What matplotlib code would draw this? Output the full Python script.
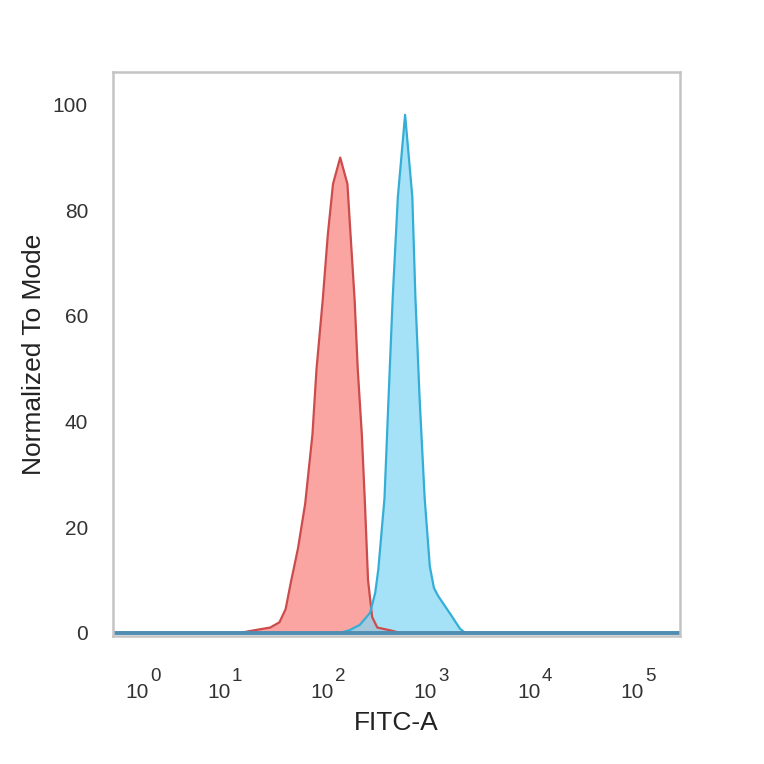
import numpy as np
import matplotlib
matplotlib.use('Agg')
import matplotlib.pyplot as plt

plt.rcParams['font.family'] = ['Liberation Sans', 'DejaVu Sans']

# Histogram data, x in log10(FITC-A) decades, y = % of mode
red_x = [-0.39, 1.13, 1.27, 1.42, 1.51, 1.57, 1.62, 1.69, 1.76, 1.83, 1.87, 1.93,
         1.98, 2.03, 2.10, 2.17, 2.20, 2.24, 2.27, 2.31, 2.34, 2.37, 2.41,
         2.46, 2.58, 2.68, 5.39]
red_y = [0, 0, 0.5, 1.0, 2.0, 4.5, 9.5, 16, 24.5, 37.5, 50, 63,
         75.5, 85, 90, 85, 75.5, 63, 50, 37.5, 24.5, 10, 3.0,
         1.0, 0.5, 0, 0]

blue_x = [-0.39, 2.10, 2.19, 2.29, 2.39, 2.44, 2.47, 2.53, 2.57, 2.61, 2.66, 2.73,
          2.80, 2.83, 2.87, 2.92, 2.97, 3.01, 3.05, 3.17, 3.26, 3.31, 5.39]
blue_y = [0, 0, 0.5, 1.5, 3.8, 7.6, 12, 25.5, 44.8, 63.6, 82.6, 98.1,
          82.6, 63.6, 44.8, 25.5, 12.6, 8.5, 7.0, 3.5, 0.8, 0, 0]

decades = [0, 1, 2, 3, 4, 5]
yticks = [0, 20, 40, 60, 80, 100]

# FlowJo-like display: compressed first decade
knots = np.array([-1, 0, 1, 2, 3, 4, 5, 6], dtype=float)
disp = np.array([63, 145, 227, 330, 433, 537, 640, 743], dtype=float)


def fwd(x):
    return np.interp(x, knots, disp)


def inv(x):
    return np.interp(x, disp, knots)


fig = plt.figure(figsize=(7.64, 7.64), dpi=100)
ax = fig.add_axes([113 / 764, 1 - 636 / 764, 567 / 764, 564 / 764])
ax.set_xscale('function', functions=(fwd, inv))

ax.fill_between(red_x, red_y, color='#FA9B98', alpha=0.9, lw=0)
ax.plot(red_x, red_y, color='#CC4B4B', lw=1.6)
ax.fill_between(blue_x, blue_y, color='#84D7F4', alpha=0.72, lw=0)
ax.plot(blue_x, blue_y, color='#34AED6', lw=1.6)
ax.axhline(0, color='#4F8DB3', lw=2.8)

ax.set_xlim(-0.39, 5.39)
ax.set_ylim(-0.6, 106.2)

# decade labels drawn as "10" plus a raised exponent
ax.set_xticks(decades)
ax.set_xticklabels([])
trans = ax.get_xaxis_transform()
for d in decades:
    ax.annotate('10', (d, -0.101), xycoords=trans, xytext=(4, 0),
                textcoords='offset pixels', ha='right', va='center',
                fontsize=15, color='#333333', annotation_clip=False)
    ax.annotate(str(d), (d, -0.072), xycoords=trans, xytext=(5, 0),
                textcoords='offset pixels', ha='left', va='center',
                fontsize=13.5, color='#333333', annotation_clip=False)

ax.set_yticks(yticks)
ax.minorticks_off()
ax.tick_params(axis='both', length=0, labelsize=15, labelcolor='#333333')
ax.tick_params(axis='y', pad=18)

for s in ax.spines.values():
    s.set_color('#C4C4C4')
    s.set_linewidth(1.8)

ax.set_xlabel('FITC-A', fontsize=19, color='#222222')
ax.set_ylabel('Normalized To Mode', fontsize=19, color='#222222')
ax.xaxis.set_label_coords(0.5, -0.133)
ax.yaxis.set_label_coords(-0.118, 0.5)

fig.savefig('out.png', dpi=100)
